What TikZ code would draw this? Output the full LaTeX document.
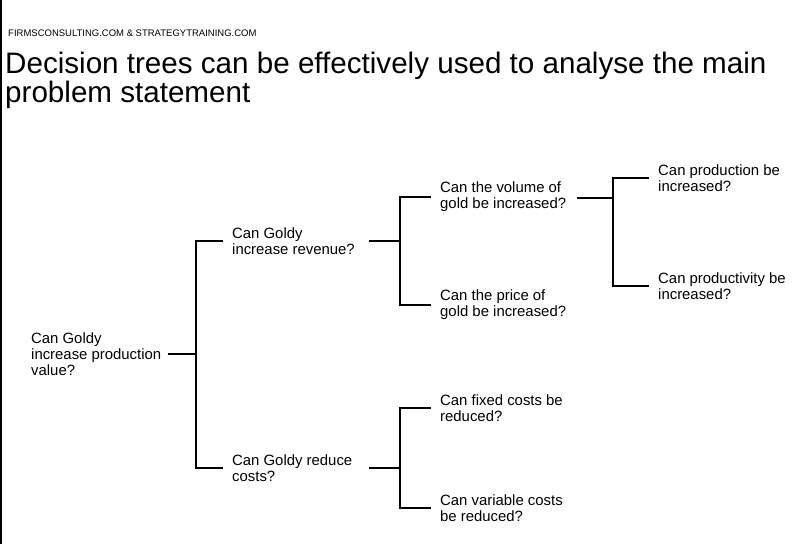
\documentclass[tikz,border=0pt]{standalone}
\usepackage{fontspec}
\setmainfont{Liberation Sans}
\begin{document}
\begin{tikzpicture}[x=1pt,y=-1pt,
  q/.style={anchor=west,inner sep=0pt,align=left,font=\fontsize{14.9}{16}\selectfont},
  conn/.style={draw=black,line width=1.5pt}]
\useasboundingbox (0,0) rectangle (802,544);
\fill[black] (0,0) rectangle (2,544);
\node[anchor=base west,inner sep=0pt,font=\fontsize{9.5}{11}\selectfont] (hdr) at (8,36) {FIRMSCONSULTING.COM \& STRATEGYTRAINING.COM};
\node[anchor=base west,inner sep=0pt,align=left,font=\fontsize{29.6}{27}\selectfont] (title) at (5,102) {Decision trees can be effectively used to analyse the main\\problem statement};
% nodes
\node[q] (root) at (31,354) {Can Goldy\\increase production\\value?};
\node[q] (rev) at (232,241) {Can Goldy\\increase revenue?};
\node[q] (cost) at (232,468) {Can Goldy reduce\\costs?};
\node[q] (vol) at (440,197) {Can the volume of\\gold be increased?};
\node[q] (price) at (440,305) {Can the price of\\gold be increased?};
\node[q] (fixed) at (440,408) {Can fixed costs be\\reduced?};
\node[q] (var) at (440,508) {Can variable costs\\be reduced?};
\node[q] (prod) at (658,178) {Can production be\\increased?};
\node[q] (prodv) at (658,286) {Can productivity be\\increased?};
% junctions
\coordinate (s0) at (168,354); \coordinate (j0) at (196,354);
\coordinate (s1) at (369,241); \coordinate (j1) at (400,241);
\coordinate (s2) at (369,468); \coordinate (j2) at (400,468);
\coordinate (s3) at (577,198); \coordinate (j3) at (613,198);
% connectors
\draw[conn] (s0) -- (j0);
\draw[conn] ([xshift=-9pt]rev.west) -| (j0) |- ([xshift=-9pt]cost.west);
\draw[conn] (s1) -- (j1);
\draw[conn] ([xshift=-9pt]vol.west) -| (j1) |- ([xshift=-9pt]price.west);
\draw[conn] (s2) -- (j2);
\draw[conn] ([xshift=-9pt]fixed.west) -| (j2) |- ([xshift=-9pt]var.west);
\draw[conn] (s3) -- (j3);
\draw[conn] ([xshift=-9pt]prod.west) -| (j3) |- ([xshift=-9pt]prodv.west);
\end{tikzpicture}
\end{document}
